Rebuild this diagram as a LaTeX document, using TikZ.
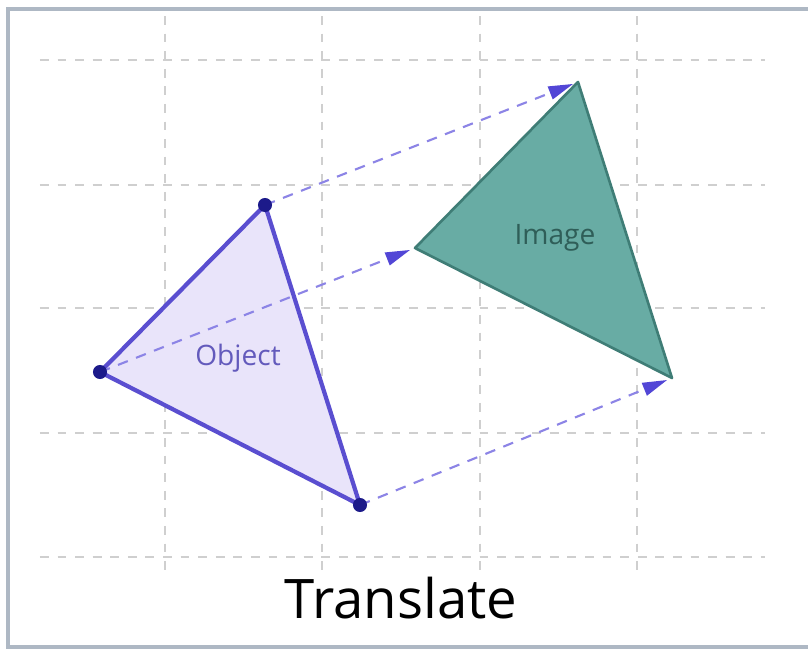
\documentclass[tikz,border=0pt]{standalone}
\usepackage{fontspec}
\setmainfont{Open Sans}
\usetikzlibrary{arrows.meta}

\definecolor{gridgray}{HTML}{CFCFCF}
\definecolor{framegray}{HTML}{AEB8C4}
\definecolor{objfill}{HTML}{E9E4FA}
\definecolor{objline}{HTML}{5A4ED0}
\definecolor{objdot}{HTML}{1C1A8A}
\definecolor{imgfill}{HTML}{68ACA4}
\definecolor{imgline}{HTML}{3F7D76}
\definecolor{shiftline}{HTML}{8C84E6}
\definecolor{shifttip}{HTML}{5246D6}

\tikzset{
    gridline/.style={gridgray, dash pattern=on 2.5pt off 2.5pt, line width=0.55pt},
    shiftarrow/.style={shiftline, dash pattern=on 3pt off 2.5pt, line width=0.6pt,
        -{Triangle[length=7pt, width=3.8pt, color=shifttip]}, shorten >=1.5pt},
}

\begin{document}
\begin{tikzpicture}[x=0.01cm, y=-0.01cm]
    \useasboundingbox (0, 0) rectangle (808, 650);
    \fill[white] (0, 0) rectangle (808, 650);
    % frame
    \draw[framegray, line width=1pt]
        (815, 9) -- (8, 9) -- (8, 647) -- (815, 647);
    % grid
    \draw[gridline]
        \foreach \y in {60, 185, 308, 433, 557} {
            (40, \y) -- (765, \y)
        }
        \foreach \x in {165, 322, 480, 637} {
            (\x, 16) -- (\x, 578)
        };
    % vertices
    \coordinate (o1) at (100, 372);
    \coordinate (o2) at (265, 205);
    \coordinate (o3) at (360, 505);
    \coordinate (i1) at (415, 248);
    \coordinate (i2) at (578, 82);
    \coordinate (i3) at (672, 378);
    % object and image
    \filldraw[fill=objfill, draw=objline, line width=1.2pt, line join=round]
        (o1) -- (o2) -- (o3) -- cycle;
    \filldraw[fill=imgfill, draw=imgline, line width=0.75pt, line join=round]
        (i1) -- (i2) -- (i3) -- cycle;
    % translation
    \draw[shiftarrow] (o1) -- (i1);
    \draw[shiftarrow] (o2) -- (i2);
    \draw[shiftarrow] (o3) -- (i3);
    \fill[objdot, radius=2pt]
        \foreach \p in {o1, o2, o3} {
            (\p) circle[]
        };
    % labels
    \node[objline!75!gray, font=\fontsize{8}{9}\selectfont] (objtext) at (238, 358) {Object};
    \node[imgline!75!black, font=\fontsize{8}{9}\selectfont] (imgtext) at (555, 238) {Image};
    \node[font=\fontsize{15.5}{17}\selectfont] (title) at (401, 598) {Translate};
\end{tikzpicture}
\end{document}
